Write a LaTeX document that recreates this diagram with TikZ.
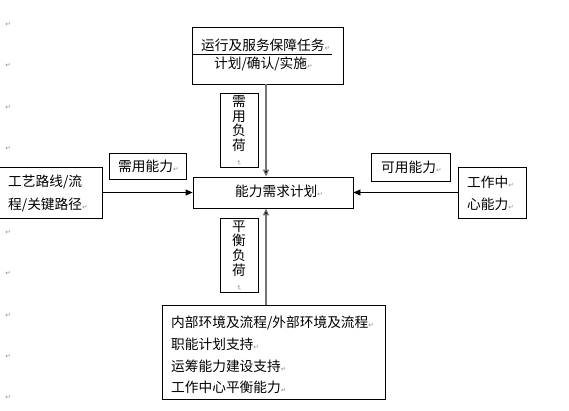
\documentclass[tikz,border=0pt]{standalone}
\usepackage{fontspec}
\usepackage{graphicx}
\setmainfont{Noto Sans CJK SC}
\newfontfamily\symfont{DejaVu Sans}
\usetikzlibrary{arrows.meta}
\newcommand\parmark{{\symfont\fontsize{6.5}{6.5}\selectfont\color{black!45}↵}}
\newcommand\vparmark{{\symfont\fontsize{6.5}{6.5}\selectfont\color{black!45}\rotatebox{-90}{↵}}}
\tikzset{
  box/.style={draw=black, line width=0.8pt, inner sep=0pt},
  txt/.style={inner sep=0pt, anchor=west, font=\fontsize{13.7}{14}\selectfont},
  vtxt/.style={inner sep=0pt, align=center, font=\fontsize{13.7}{14.6}\selectfont},
  pmark/.style={inner sep=0pt},
  hline/.style={draw=black, line width=0.8pt, -{Triangle[length=7pt,width=6pt]}},
  vline/.style={draw=black!55, line width=1.2pt, -{Triangle[length=7pt,width=6pt,fill=black]}}
}
\begin{document}
\begin{tikzpicture}[x=1pt,y=-1pt]
\useasboundingbox (0,0) rectangle (569,410);
% boxes
\path[box] (192,27) rectangle (343,84);
\coordinate (topS) at (266,84);
\node[box, minimum width=160pt, minimum height=31pt] (center) at (273,192.5) {};
\node[box, minimum width=103pt, minimum height=51pt] (left) at (51,192.5) {};
\node[box, minimum width=68pt, minimum height=51pt] (right) at (492,192.5) {};
\node[box, minimum width=77pt, minimum height=26pt] (need) at (147.5,166) {};
\node[box, minimum width=79pt, minimum height=28pt] (avail) at (410.5,167) {};
\node[box, minimum width=38pt, minimum height=74pt] (load1) at (239,130) {};
\node[box, minimum width=38pt, minimum height=74pt] (load2) at (239,255) {};
\node[box, minimum width=223pt, minimum height=94pt] (bottom) at (273.5,352) {};
\node[inner sep=0pt, minimum width=151pt, minimum height=57pt] (top) at (267.5,55.5) {};
\draw[line width=0.8pt] (192,54) -- (332,54);
% texts
\node[txt] (t1) at (201,45) {运行及服务保障任务\parmark};
\node[txt] (t2) at (214,64) {计划/确认/实施\parmark};
\node[txt] (c1) at (235,191) {能力需求计划\parmark};
\node[txt] (l1) at (8,182) {工艺路线/流};
\node[txt] (l2) at (8,205) {程/关键路径\parmark};
\node[txt] (r1) at (467,182) {工作中\parmark};
\node[txt] (r2) at (467,204) {心能力\parmark};
\node[txt] (n1) at (118,166) {需用能力\parmark};
\node[txt] (a1) at (381,167) {可用能力\parmark};
\node[vtxt] (v1) at (239,131) {需\\用\\负\\荷\\[-4pt]\vparmark};
\node[vtxt] (v2) at (239,256) {平\\衡\\负\\荷\\[-4pt]\vparmark};
\node[txt] (b1) at (171,323) {内部环境及流程/外部环境及流程\parmark};
\node[txt] (b2) at (171,344) {职能计划支持\parmark};
\node[txt] (b3) at (171,366) {运筹能力建设支持\parmark};
\node[txt] (b4) at (171,387) {工作中心平衡能力\parmark};
% margin paragraph marks
\foreach \yy [count=\i] in {24,65,107,148,232,273,315,356,397}
  \node[pmark] (m\i) at (8,\yy) {\parmark};
% connectors
\draw[vline] (topS) -- (center.north -| topS);
\draw[vline] (bottom.north -| topS) -- (center.south -| topS);
\draw[hline] (left.east) -- (center.west);
\draw[hline] (right.west) -- (center.east);
\end{tikzpicture}
\end{document}
